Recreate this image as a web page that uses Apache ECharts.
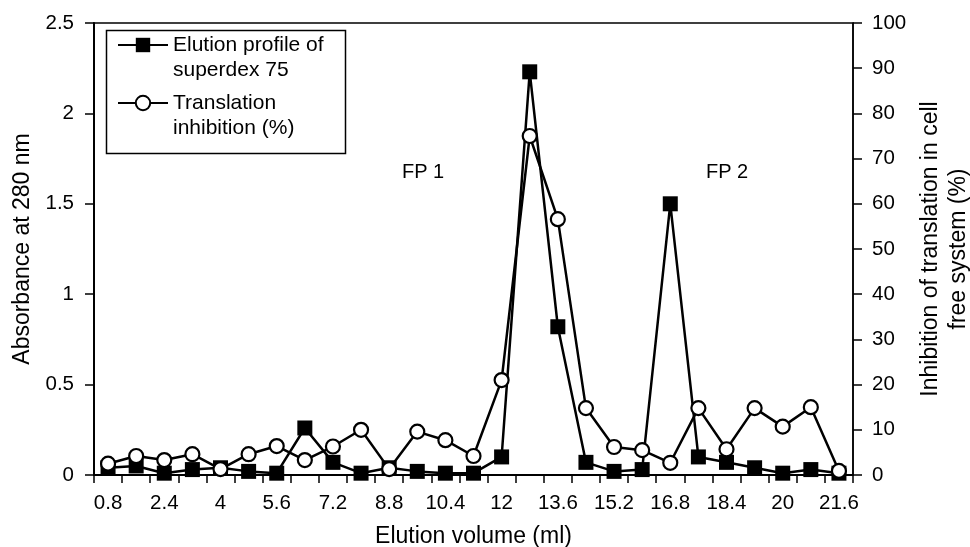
<!DOCTYPE html>
<html>
<head>
<meta charset="utf-8">
<script src="https://cdn.jsdelivr.net/npm/echarts@6/dist/echarts.min.js"></script>
<style>
html,body{margin:0;padding:0;background:#fff;}
#chart{width:970px;height:547px;}
</style>
</head>
<body>
<div id="chart"></div>
<script>
var categories = ['0.8','1.6','2.4','3.2','4','4.8','5.6','6.4','7.2','8','8.8','9.6','10.4','11.2','12','12.8','13.6','14.4','15.2','16','16.8','17.6','18.4','19.2','20','20.8','21.6'];
var absorbance = [0.04,0.05,0.01,0.03,0.04,0.02,0.01,0.26,0.07,0.01,0.04,0.02,0.01,0.01,0.10,2.23,0.82,0.07,0.02,0.03,1.50,0.10,0.07,0.04,0.01,0.03,0.01];
var inhibition = [2.5,4.2,3.3,4.6,1.3,4.6,6.4,3.3,6.3,10.0,1.3,9.6,7.7,4.2,21.0,75.0,56.6,14.8,6.2,5.5,2.7,14.8,5.7,14.8,10.7,15.0,0.9];
var seriesNames = ['Elution profile of\nsuperdex 75', 'Translation\ninhibition (%)'];
var xName = 'Elution volume (ml)';
var yLeftName = 'Absorbance at 280 nm';
var yRightName = 'Inhibition of translation in cell\nfree system (%)';
var peakLabels = ['FP 1', 'FP 2'];

var FONT = '"Liberation Sans", Arial, Helvetica, sans-serif';
var chart = echarts.init(document.getElementById('chart'), null, {renderer: 'canvas'});

var legendText = {fontFamily: FONT, fontSize: 21, color: '#000', lineHeight: 25};
function legendFmt(name) { return ' \n' + name; }

var option = {
  animation: false,
  backgroundColor: '#fff',
  textStyle: {fontFamily: FONT, color: '#000'},
  grid: {left: 94, right: 117, top: 23, bottom: 72, containLabel: false, outerBoundsMode: 'none',
         show: true, borderColor: '#000', borderWidth: 1.5, backgroundColor: 'transparent'},
  legend: [
    {data: [seriesNames[0]], left: 117, top: 7.5, padding: 0, orient: 'vertical',
     itemWidth: 50, itemHeight: 18, itemGap: 8, textStyle: legendText, formatter: legendFmt},
    {data: [seriesNames[1]], left: 117, top: 65.5, padding: 0, orient: 'vertical',
     itemWidth: 50, itemHeight: 18, itemGap: 8, textStyle: legendText, formatter: legendFmt}
  ],
  xAxis: {
    type: 'category', data: categories, boundaryGap: true,
    name: xName, nameLocation: 'middle', nameGap: 50,
    nameTextStyle: {fontSize: 23, color: '#000', fontFamily: FONT},
    axisLine: {lineStyle: {color: '#000', width: 2}},
    axisTick: {show: true, interval: 0, length: 8, lineStyle: {color: '#000', width: 1.5}},
    axisLabel: {interval: 1, margin: 18, fontSize: 20.5, color: '#000', fontFamily: FONT},
    splitLine: {show: false}
  },
  yAxis: [
    {
      type: 'value', min: 0, max: 2.5, interval: 0.5, position: 'left',
      name: yLeftName, nameLocation: 'middle', nameRotate: 90, nameGap: 60,
      nameTextStyle: {fontSize: 23, color: '#000', fontFamily: FONT},
      axisLine: {show: true, lineStyle: {color: '#000', width: 2}},
      axisTick: {show: true, length: 9, lineStyle: {color: '#000', width: 1.5}},
      axisLabel: {margin: 20, fontSize: 20.5, color: '#000', fontFamily: FONT},
      splitLine: {show: false}
    },
    {
      type: 'value', min: 0, max: 100, interval: 10, position: 'right',
      name: yRightName, nameLocation: 'middle', nameRotate: 90, nameGap: 64,
      nameTextStyle: {fontSize: 23, color: '#000', fontFamily: FONT, lineHeight: 28},
      axisLine: {show: true, lineStyle: {color: '#000', width: 1.5}},
      axisTick: {show: true, length: 9, lineStyle: {color: '#000', width: 1.5}},
      axisLabel: {margin: 19, fontSize: 20.5, color: '#000', fontFamily: FONT},
      splitLine: {show: false}
    }
  ],
  series: [
    {
      name: seriesNames[0], type: 'line', yAxisIndex: 0, data: absorbance,
      symbol: 'rect', symbolSize: 15, showAllSymbol: true,
      lineStyle: {color: '#000', width: 2.5},
      itemStyle: {color: '#000', borderColor: '#000', borderWidth: 0},
      z: 2
    },
    {
      name: seriesNames[1], type: 'line', yAxisIndex: 1, data: inhibition,
      symbol: 'circle', symbolSize: 14, showAllSymbol: true,
      lineStyle: {color: '#000', width: 2.5},
      itemStyle: {color: '#fff', borderColor: '#000', borderWidth: 2.2},
      z: 3
    }
  ],
  graphic: [
    {type: 'rect', left: 104, top: 28, shape: {width: 239, height: 123},
     style: {fill: 'none', stroke: '#000', lineWidth: 1.5}, z: 10},
    {type: 'text', left: 402, top: 162, style: {text: peakLabels[0], font: '20px ' + FONT, fill: '#000'}},
    {type: 'text', left: 706, top: 162, style: {text: peakLabels[1], font: '20px ' + FONT, fill: '#000'}}
  ]
};
chart.setOption(option);
</script>
</body>
</html>
